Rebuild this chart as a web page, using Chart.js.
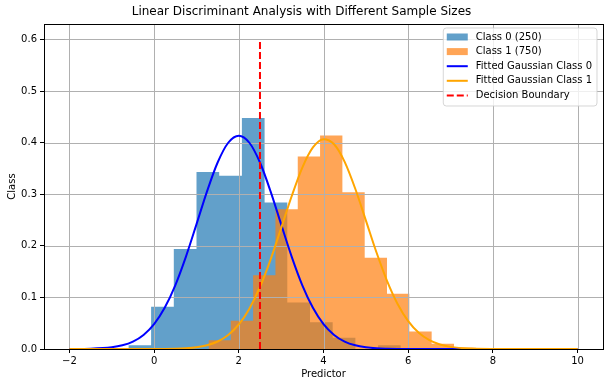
<!DOCTYPE html>
<html><head><meta charset="utf-8">
<script src="https://cdn.jsdelivr.net/npm/chart.js@4.4.1/dist/chart.umd.min.js"></script>
<style>html,body{margin:0;padding:0;background:#fff;} #wrap{width:609px;height:387px;}</style>
</head><body><div id="wrap"><canvas id="c" width="609" height="387"></canvas></div>
<script>
// ---- data ----
const class0Edges = [-0.607, -0.071, 0.465, 1.001, 1.537, 2.073, 2.609, 3.145, 3.681, 4.217, 4.753, 5.289, 5.825];
const class0Density = [0.0075, 0.082, 0.194, 0.343, 0.336, 0.448, 0.284, 0.090, 0.052, 0.022, 0, 0.0075];
const class1Edges = [1.284, 1.811, 2.338, 2.865, 3.392, 3.919, 4.446, 4.973, 5.500, 6.027, 6.554, 7.081, 7.608];
const class1Density = [0.017, 0.055, 0.143, 0.271, 0.373, 0.414, 0.304, 0.177, 0.107, 0.034, 0.010, 0.0025];
const curveX = [-2, -1.5, -1, -0.75, -0.5, -0.25, 0, 0.25, 0.5, 0.75, 1, 1.25, 1.5, 1.75, 2, 2.25, 2.5, 2.75, 3, 3.25, 3.5, 3.75, 4, 4.25, 4.5, 4.75, 5, 5.25, 5.5, 5.75, 6, 6.25, 6.5, 6.75, 7, 7.5, 8, 9, 10];
const gauss0Y = [0.0001, 0.0006, 0.0033, 0.0071, 0.0144, 0.0273, 0.0483, 0.0799, 0.1235, 0.1787, 0.2416, 0.3056, 0.3615, 0.3998, 0.4134, 0.3998, 0.3615, 0.3056, 0.2416, 0.1787, 0.1235, 0.0799, 0.0483, 0.0273, 0.0144, 0.0071, 0.0033, 0.0014, 0.0006, 0.0002, 0.0001, 0, 0, 0, 0, 0, 0, 0, 0];
const gauss1Y = [0, 0, 0, 0, 0, 0, 0.0001, 0.0002, 0.0006, 0.0015, 0.0034, 0.0073, 0.0145, 0.0272, 0.0476, 0.0782, 0.1203, 0.1734, 0.2343, 0.2965, 0.3517, 0.3907, 0.4068, 0.3969, 0.3628, 0.3107, 0.2494, 0.1875, 0.1322, 0.0873, 0.0540, 0.0313, 0.0170, 0.0086, 0.0041, 0.0008, 0.0001, 0, 0];
const boundaryX = 2.5;
const boundaryY = [0, 0.6];
const xTicks = [-2, 0, 2, 4, 6, 8, 10];
const yTicks = [0, 0.1, 0.2, 0.3, 0.4, 0.5, 0.6];
const xRange = [-2.6, 10.6];
const yRange = [0, 0.63];
const seriesLabels = ['Class 0 (250)', 'Class 1 (750)', 'Fitted Gaussian Class 0', 'Fitted Gaussian Class 1', 'Decision Boundary'];
const titleText = 'Linear Discriminant Analysis with Different Sample Sizes';
const xTitle = 'Predictor';
const yTitle = 'Class';

// ---- build library structures ----
function histPoints(edges, dens) {
  const pts = dens.map((d, i) => ({x: edges[i], y: d}));
  pts.push({x: edges[edges.length - 1], y: dens[dens.length - 1]});
  return pts;
}
const curve = ys => curveX.map((x, i) => ({x: x, y: ys[i]}));

const FONT = '"DejaVu Sans", "Liberation Sans", sans-serif';
Chart.defaults.font.family = FONT;
Chart.defaults.color = '#000';

const GRID = '#b0b0b0';
const overlay = {
  id: 'overlay',
  afterDatasetDraw(chart, args) {
    if (args.index !== 1) return; // grid above histogram patches, below lines
    const ctx = chart.ctx, ca = chart.chartArea;
    const xs = chart.scales.x, ys = chart.scales.y;
    ctx.save();
    ctx.strokeStyle = GRID; ctx.lineWidth = 1;
    ctx.beginPath();
    xTicks.forEach(v => { const p = Math.round(xs.getPixelForValue(v)) + 0.5; ctx.moveTo(p, ca.top); ctx.lineTo(p, ca.bottom); });
    yTicks.forEach(v => { const p = Math.round(ys.getPixelForValue(v)) + 0.5; ctx.moveTo(ca.left, p); ctx.lineTo(ca.right, p); });
    ctx.stroke();
    ctx.restore();
  },
  afterDraw(chart) {
    const ctx = chart.ctx, ca = chart.chartArea;
    ctx.save();
    // spines
    ctx.strokeStyle = '#000'; ctx.lineWidth = 1;
    ctx.strokeRect(Math.round(ca.left) + 0.5, Math.round(ca.top) + 0.5, Math.round(ca.right - ca.left), Math.round(ca.bottom - ca.top));
    // legend
    ctx.font = '10px ' + FONT;
    const dsets = chart.data.datasets;
    const maxW = Math.max(...dsets.map(d => ctx.measureText(d.label).width));
    const pad = 3.5, handleW = 21, gap = 8, rowH = 14.6;
    const right = ca.right - 6;
    const w = pad + handleW + gap + maxW + 5;
    const left = right - w, top = ca.top + 4;
    const h = dsets.length * rowH + 5;
    const r = 3;
    ctx.beginPath();
    ctx.moveTo(left + r, top); ctx.lineTo(left + w - r, top); ctx.arcTo(left + w, top, left + w, top + r, r);
    ctx.lineTo(left + w, top + h - r); ctx.arcTo(left + w, top + h, left + w - r, top + h, r);
    ctx.lineTo(left + r, top + h); ctx.arcTo(left, top + h, left, top + h - r, r);
    ctx.lineTo(left, top + r); ctx.arcTo(left, top, left + r, top, r);
    ctx.closePath();
    ctx.fillStyle = 'rgba(255,255,255,0.8)'; ctx.fill();
    ctx.strokeStyle = 'rgba(204,204,204,0.8)'; ctx.lineWidth = 1; ctx.stroke();
    dsets.forEach((d, i) => {
      const cy = top + 9 + i * rowH;
      const hx = left + pad;
      if (d.fill) {
        ctx.fillStyle = d.backgroundColor;
        ctx.fillRect(hx, cy - 3.5, handleW, 7);
      } else {
        ctx.strokeStyle = d.borderColor; ctx.lineWidth = 2;
        ctx.setLineDash(d.borderDash || []);
        ctx.beginPath(); ctx.moveTo(hx, cy); ctx.lineTo(hx + handleW, cy); ctx.stroke();
        ctx.setLineDash([]);
      }
      ctx.fillStyle = '#000'; ctx.textBaseline = 'middle'; ctx.textAlign = 'left';
      ctx.fillText(d.label, hx + handleW + gap, cy);
    });
    ctx.restore();
  }
};

new Chart(document.getElementById('c'), {
  type: 'line',
  data: {
    datasets: [
      {label: seriesLabels[0], data: histPoints(class0Edges, class0Density), stepped: 'before', fill: 'origin',
       backgroundColor: 'rgba(31,119,180,0.7)', borderWidth: 0, borderColor: 'rgba(0,0,0,0)', pointRadius: 0, order: 5},
      {label: seriesLabels[1], data: histPoints(class1Edges, class1Density), stepped: 'before', fill: 'origin',
       backgroundColor: 'rgba(255,127,14,0.7)', borderWidth: 0, borderColor: 'rgba(0,0,0,0)', pointRadius: 0, order: 4},
      {label: seriesLabels[2], data: curve(gauss0Y), borderColor: '#0000ff', borderWidth: 2, fill: false,
       pointRadius: 0, cubicInterpolationMode: 'monotone', order: 3},
      {label: seriesLabels[3], data: curve(gauss1Y), borderColor: '#ffa500', borderWidth: 2, fill: false,
       pointRadius: 0, cubicInterpolationMode: 'monotone', order: 2},
      {label: seriesLabels[4], data: boundaryY.map(y => ({x: boundaryX, y: y})), borderColor: '#ff0000', borderWidth: 2,
       borderDash: [7, 3], fill: false, pointRadius: 0, order: 1}
    ]
  },
  options: {
    responsive: false, animation: false, devicePixelRatio: 1,
    layout: {padding: {left: 0, right: 6, top: 0, bottom: 0}},
    plugins: {
      legend: {display: false}, tooltip: {enabled: false},
      title: {display: true, text: titleText, font: {size: 12, weight: 'normal', family: FONT}, color: '#000',
              padding: {top: 5, bottom: 4.6}}
    },
    scales: {
      x: {
        type: 'linear', min: xRange[0], max: xRange[1],
        afterBuildTicks: s => { s.ticks = xTicks.map(v => ({value: v})); },
        afterFit: s => { s.height = 38; },
        ticks: {font: {size: 10}, color: '#000', padding: 2, maxRotation: 0,
                callback: v => (v < 0 ? '\u2212' + Math.abs(v) : String(v))},
        grid: {drawOnChartArea: false, tickColor: '#000', tickLength: 4, lineWidth: 1},
        border: {display: false},
        title: {display: true, text: xTitle, font: {size: 10}, color: '#000', padding: {top: 0, bottom: 7}}
      },
      y: {
        type: 'linear', min: yRange[0], max: yRange[1],
        afterBuildTicks: s => { s.ticks = yTicks.map(v => ({value: v})); },
        afterFit: s => { s.width = 44; },
        ticks: {font: {size: 10}, color: '#000', padding: 3, callback: v => v.toFixed(1)},
        grid: {drawOnChartArea: false, tickColor: '#000', tickLength: 4, lineWidth: 1},
        border: {display: false},
        title: {display: true, text: yTitle, font: {size: 10}, color: '#000', padding: {top: 6, bottom: 0}}
      }
    }
  },
  plugins: [overlay]
});
</script>
</body></html>
